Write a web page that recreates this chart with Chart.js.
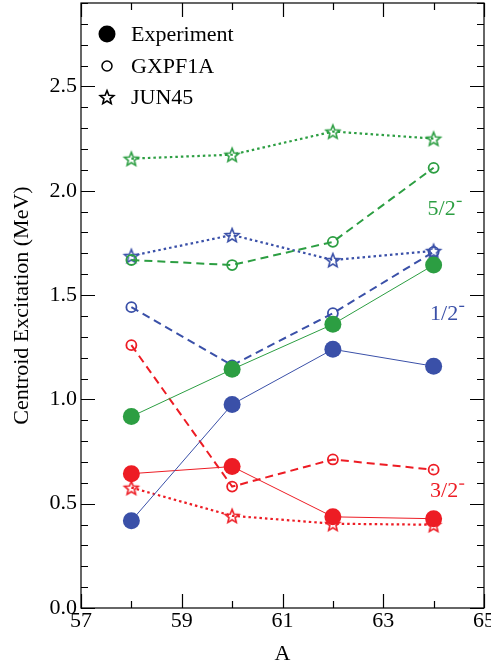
<!DOCTYPE html>
<html>
<head>
<meta charset="utf-8">
<script src="https://cdn.jsdelivr.net/npm/chart.js@4.4.1/dist/chart.umd.min.js"></script>
<style>
  html, body { margin: 0; padding: 0; background: #fff; }
</style>
</head>
<body>
<canvas id="chart" width="491" height="666"></canvas>
<script>
// Mass number A
const massNumbers = [58, 60, 62, 64];

// Experiment (filled circles, solid lines)
const expFiveHalves = [0.918, 1.144, 1.360, 1.644];
const expOneHalf = [0.418, 0.976, 1.240, 1.159];
const expThreeHalves = [0.644, 0.678, 0.437, 0.428];

// GXPF1A (open circles, dashed lines)
const gxFiveHalves = [1.668, 1.644, 1.755, 2.110];
const gxOneHalf = [1.442, 1.163, 1.413, 1.707];
const gxThreeHalves = [1.260, 0.582, 0.712, 0.663];

// JUN45 (stars, dotted lines)
const junFiveHalves = [2.154, 2.173, 2.284, 2.250];
const junOneHalf = [1.688, 1.788, 1.668, 1.712];
const junThreeHalves = [0.577, 0.442, 0.404, 0.399];

const yTickLabels = [0, 0.5, 1.0, 1.5, 2.0, 2.5];
const xTickLabels = [57, 59, 61, 63, 65];
const legendNames = ['Experiment', 'GXPF1A', 'JUN45'];
const stateLabels = ['5/2', '1/2', '3/2'];

const GREEN = '#2c9e42';
const BLUE = '#3a50a8';
const RED = '#ed1c24';
const SERIF = '"Liberation Serif", "DejaVu Serif", serif';

function starImage(color) {
    const c = document.createElement('canvas');
    c.width = 20; c.height = 20;
    const g = c.getContext('2d');
    g.strokeStyle = color;
    g.lineWidth = 1.6;
    g.lineJoin = 'miter';
    g.beginPath();
    for (let i = 0; i < 10; i++) {
        const r = i % 2 ? 3.2 : 7.2;
        const a = -Math.PI / 2 + i * Math.PI / 5;
        const px = 10 + r * Math.cos(a), py = 10.8 + r * Math.sin(a);
        if (i) g.lineTo(px, py); else g.moveTo(px, py);
    }
    g.closePath();
    g.stroke();
    return c;
}

function series(values, color, kind) {
    const pts = massNumbers.map((a, i) => ({ x: a, y: values[i] }));
    const ds = { data: pts, borderColor: color, backgroundColor: color, fill: false, tension: 0 };
    if (kind === 'exp') {
        Object.assign(ds, { borderWidth: 1, pointStyle: 'circle', pointRadius: 8.5, pointBorderWidth: 0 });
    } else if (kind === 'gx') {
        Object.assign(ds, { borderWidth: 2, borderDash: [8, 5], pointStyle: 'circle', pointRadius: 5,
            pointBorderWidth: 1.8, pointBackgroundColor: 'rgba(255,255,255,0)' });
    } else {
        Object.assign(ds, { borderWidth: 2.2, borderDash: [2.5, 3], pointStyle: starImage(color), pointRadius: 8 });
    }
    return ds;
}

// no extra room for half-labels at the ends of the axes
function noPad(s) {
    s.paddingTop = 0; s.paddingBottom = 0; s.paddingLeft = 0; s.paddingRight = 0;
}

// inward ticks on all four sides + frame
const frame = {
    id: 'frame',
    afterDraw(chart) {
        const { ctx, chartArea: ca, scales } = chart;
        const xs = scales.x, ys = scales.y;
        ctx.save();
        ctx.strokeStyle = '#000';
        ctx.lineWidth = 1.2;
        ctx.strokeRect(ca.left, ca.top, ca.right - ca.left, ca.bottom - ca.top);
        ctx.beginPath();
        for (let i = 0; i <= 29; i++) {
            const y = Math.round(ys.getPixelForValue(i / 10)) + 0.5;
            const len = i % 5 === 0 ? 14 : 7;
            ctx.moveTo(ca.left, y); ctx.lineTo(ca.left + len, y);
            ctx.moveTo(ca.right, y); ctx.lineTo(ca.right - len, y);
        }
        for (let a = 57; a <= 65; a++) {
            const x = Math.round(xs.getPixelForValue(a)) + 0.5;
            const len = a % 2 === 1 ? 14 : 7;
            ctx.moveTo(x, ca.bottom); ctx.lineTo(x, ca.bottom - len);
            ctx.moveTo(x, ca.top); ctx.lineTo(x, ca.top + len);
        }
        ctx.stroke();

        // legend
        ctx.fillStyle = '#000';
        ctx.font = '22px ' + SERIF;
        ctx.textBaseline = 'middle';
        const lx = ca.left + 26, tx = ca.left + 50;
        const rows = [ca.top + 31, ca.top + 63, ca.top + 94];
        ctx.beginPath();
        ctx.arc(lx, rows[0], 8.5, 0, Math.PI * 2);
        ctx.fill();
        ctx.beginPath();
        ctx.lineWidth = 1.5;
        ctx.arc(lx, rows[1], 5, 0, Math.PI * 2);
        ctx.stroke();
        const s = starImage('#000');
        ctx.drawImage(s, lx - 10, rows[2] - 10);
        legendNames.forEach((n, i) => ctx.fillText(n, tx, rows[i] + 1));

        // state labels
        const spots = [[63.88, 1.913, GREEN], [63.93, 1.41, BLUE], [63.93, 0.558, RED]];
        stateLabels.forEach((t, i) => {
            const [a, v, col] = spots[i];
            const px = xs.getPixelForValue(a), py = ys.getPixelForValue(v);
            ctx.fillStyle = col;
            ctx.strokeStyle = col;
            ctx.fillText(t, px, py);
            const w = ctx.measureText(t).width;
            ctx.lineWidth = 1.3;
            ctx.beginPath();
            ctx.moveTo(px + w + 1, py - 7.5);
            ctx.lineTo(px + w + 6, py - 7.5);
            ctx.stroke();
        });
        ctx.restore();
    }
};

Chart.defaults.color = '#000';
Chart.defaults.font.family = SERIF;

new Chart(document.getElementById('chart'), {
    type: 'line',
    data: {
        datasets: [
            series(expFiveHalves, GREEN, 'exp'),
            series(expOneHalf, BLUE, 'exp'),
            series(expThreeHalves, RED, 'exp'),
            series(gxFiveHalves, GREEN, 'gx'),
            series(gxOneHalf, BLUE, 'gx'),
            series(gxThreeHalves, RED, 'gx'),
            series(junFiveHalves, GREEN, 'jun'),
            series(junOneHalf, BLUE, 'jun'),
            series(junThreeHalves, RED, 'jun')
        ]
    },
    options: {
        responsive: false,
        animation: false,
        layout: { autoPadding: false, padding: { top: 3, right: 7, left: 0, bottom: 0 } },
        plugins: { legend: { display: false }, tooltip: { enabled: false } },
        scales: {
            x: {
                type: 'linear', min: 57, max: 65,
                grid: { display: false, drawTicks: false },
                border: { display: false },
                afterFit: s => { s.height = 58; noPad(s); },
                afterBuildTicks: s => { s.ticks = xTickLabels.map(v => ({ value: v })); },
                ticks: { font: { size: 22 }, padding: 0, maxRotation: 0, autoSkip: false, callback: v => String(v) },
                title: { display: true, text: 'A', font: { size: 22, lineHeight: 1 }, padding: { top: 0, bottom: 1 } }
            },
            y: {
                type: 'linear', min: 0, max: 2.9,
                grid: { display: false, drawTicks: false },
                border: { display: false },
                afterFit: s => { s.width = 81; noPad(s); },
                afterBuildTicks: s => { s.ticks = yTickLabels.map(v => ({ value: v })); },
                ticks: { font: { size: 22 }, padding: 4, autoSkip: false, callback: v => Number(v).toFixed(1) },
                title: { display: true, text: 'Centroid Excitation (MeV)', font: { size: 22, lineHeight: 1 }, padding: { top: 11, bottom: 0 } }
            }
        }
    },
    plugins: [frame]
});
</script>
</body>
</html>
